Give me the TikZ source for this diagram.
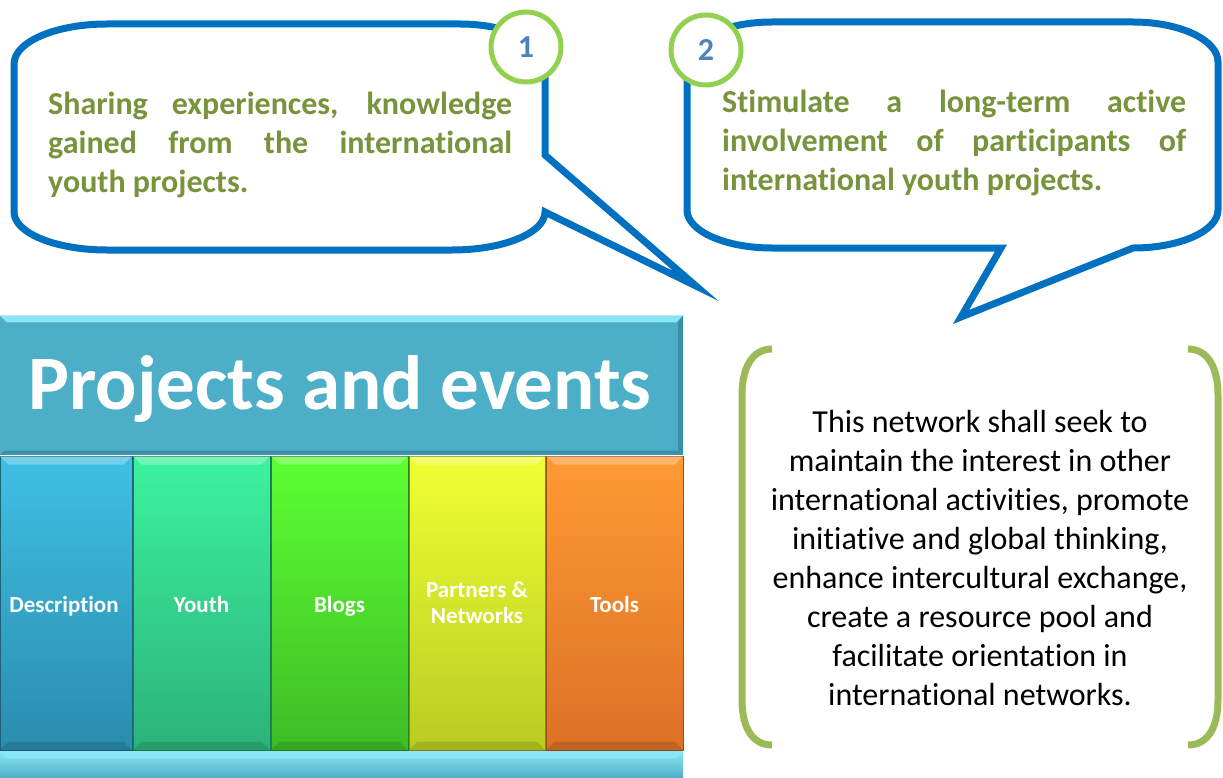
\documentclass[tikz,border=0pt]{standalone}
\usepackage{fontspec}
\setmainfont{Carlito}[Ligatures=NoCommon]
\definecolor{cblue}{HTML}{0070C0}
\definecolor{cgreen}{HTML}{92D050}
\definecolor{numblue}{HTML}{4F81BD}
\definecolor{txtgreen}{HTML}{77933C}
\definecolor{brgreen}{HTML}{9BBB59}
\definecolor{hdrc}{HTML}{4DAEC7}
\definecolor{hdrlight}{HTML}{8AE6F6}
\definecolor{hdrdark}{HTML}{3A8EA5}
\definecolor{descT}{HTML}{3FC0E4}
\definecolor{descB}{HTML}{2A8CAD}
\definecolor{youthT}{HTML}{3CF39E}
\definecolor{youthB}{HTML}{2BB27A}
\definecolor{blogT}{HTML}{5CFF32}
\definecolor{blogB}{HTML}{3EBC26}
\definecolor{partT}{HTML}{F0FF33}
\definecolor{partB}{HTML}{B8CC22}
\definecolor{toolT}{HTML}{FF9A33}
\definecolor{toolB}{HTML}{DC7126}
\begin{document}
\begin{tikzpicture}[x=1pt,y=-1pt,
  callout/.style={draw=cblue,line width=7pt,fill=white,line join=miter},
  numring/.style={circle,draw=cgreen,line width=5pt,fill=white,minimum size=70pt,inner sep=0pt,
    text=numblue,font=\fontsize{32}{34}\selectfont\bfseries},
  ctext/.style={anchor=base west,inner sep=0pt,text=txtgreen,font=\fontsize{32}{39}\selectfont\bfseries},
  btext/.style={anchor=base,inner sep=0pt,text=black,font=\fontsize{32}{39}\selectfont},
  colbox/.style={rectangle,inner sep=0pt,minimum height=294pt,line width=1pt},
  collabel/.style={anchor=base,inner sep=0pt,text=white,align=center,font=\fontsize{23}{26}\selectfont\bfseries},
  bracket/.style={draw=brgreen,line width=7pt},
  bevel/.style={white,opacity=0.28}
]
\useasboundingbox (0,0) rectangle (1223,778);

% ---------- callout 1 ----------
\draw[callout] (107,24) -- (460,24)
  arc[start angle=270,end angle=360,x radius=85,y radius=40]
  -- (545,155) -- (696,286) -- (545,212)
  arc[start angle=0,end angle=90,x radius=93,y radius=38]
  -- (107,250)
  arc[start angle=90,end angle=180,x radius=93,y radius=38]
  -- (14,64)
  arc[start angle=180,end angle=270,x radius=93,y radius=40]
  -- cycle;
\node[numring] (n1) at (526,47) {1};
\node[ctext] (t1a) at (48,115) {\makebox[464pt][s]{Sharing experiences, knowledge}};
\node[ctext] (t1b) at (48,154) {\makebox[464pt][s]{gained from the international}};
\node[ctext] (t1c) at (48,193) {youth projects.};

% ---------- callout 2 ----------
\draw[callout] (772,22) -- (1133,22)
  arc[start angle=270,end angle=360,x radius=85,y radius=40]
  -- (1218,210)
  arc[start angle=0,end angle=90,x radius=85,y radius=38]
  -- (961,317) -- (1001,248) -- (772,248)
  arc[start angle=90,end angle=180,x radius=85,y radius=38]
  -- (687,62)
  arc[start angle=180,end angle=270,x radius=85,y radius=40]
  -- cycle;
\node[numring] (n2) at (706,50) {2};
\node[ctext] (t2a) at (722,113) {\makebox[464pt][s]{Stimulate a long-term active}};
\node[ctext] (t2b) at (722,152) {\makebox[464pt][s]{involvement of participants of}};
\node[ctext] (t2c) at (722,191) {international youth projects.};

% ---------- panel ----------
\node[rectangle,inner sep=0pt,minimum width=683pt,minimum height=139pt,fill=hdrc] (hdr) at (341.5,385) {};
\fill[hdrlight] (hdr.north west) -- (hdr.north east) -- ([shift={(-7,7)}]hdr.north east) -- ([shift={(7,7)}]hdr.north west) -- cycle;
\fill[hdrdark] (hdr.south west) -- (hdr.south east) -- ([shift={(-5,-4)}]hdr.south east) -- ([shift={(5,-4)}]hdr.south west) -- cycle;
\fill[hdrdark] (hdr.north east) -- (hdr.south east) -- ([shift={(-5,-4)}]hdr.south east) -- ([shift={(-5,7)}]hdr.north east) -- cycle;
\node[anchor=base,inner sep=0pt,text=white,font=\fontsize{77}{80}\selectfont\bfseries] (title) at (340,409) {Projects and events};

\node[colbox,minimum width=132pt,top color=descT,bottom color=descB,draw=descB!70!black] (c1) at (66,603) {};
\node[colbox,minimum width=137pt,top color=youthT,bottom color=youthB,draw=youthB!70!black] (c2) at (201.5,603) {};
\node[colbox,minimum width=137pt,top color=blogT,bottom color=blogB,draw=blogB!70!black] (c3) at (339.5,603) {};
\node[colbox,minimum width=136pt,top color=partT,bottom color=partB,draw=partB!70!black] (c4) at (477,603) {};
\node[colbox,minimum width=137pt,top color=toolT,bottom color=toolB,draw=toolB!70!black] (c5) at (614.5,603) {};
\foreach \c in {c1,c2,c3,c4,c5}{
  \fill[bevel] (\c.north west) -- (\c.north east) -- ([shift={(-9,9)}]\c.north east) -- ([shift={(9,9)}]\c.north west) -- cycle;
  \fill[black,opacity=0.12] (\c.south west) -- (\c.south east) -- ([shift={(-9,-9)}]\c.south east) -- ([shift={(9,-9)}]\c.south west) -- cycle;
}
\node[collabel] (l1) at (64,612) {Description};
\node[collabel] (l2) at (201.5,612) {Youth};
\node[collabel] (l3) at (339.5,612) {Blogs};
\node[collabel] (l4) at (477,597) {Partners \&};
\node[collabel] (l4b) at (477,623) {Networks};
\node[collabel] (l5) at (614.5,612) {Tools};

\node[rectangle,inner sep=0pt,minimum width=683pt,minimum height=27pt,top color=hdrlight,bottom color=hdrc] (foot) at (341.5,765) {};
\fill[hdrlight] (foot.north west) -- (foot.north east) -- ([shift={(-7,7)}]foot.north east) -- ([shift={(7,7)}]foot.north west) -- cycle;

% ---------- bracket box ----------
\draw[bracket] (772,349) .. controls (752,349) and (742,368) .. (742,395)
  -- (742,700) .. controls (742,727) and (752,745) .. (772,745);
\draw[bracket] (1188,349) .. controls (1208,349) and (1218,368) .. (1218,395)
  -- (1218,700) .. controls (1218,727) and (1208,745) .. (1188,745);
\node[btext] (b1) at (980,432) {This network shall seek to};
\node[btext] (b2) at (980,471) {maintain the interest in other};
\node[btext] (b3) at (980,510) {international activities, promote};
\node[btext] (b4) at (980,549) {initiative and global thinking,};
\node[btext] (b5) at (980,588) {enhance intercultural exchange,};
\node[btext] (b6) at (980,627) {create a resource pool and};
\node[btext] (b7) at (980,666) {facilitate orientation in};
\node[btext] (b8) at (980,705) {international networks.};
\end{tikzpicture}
\end{document}
